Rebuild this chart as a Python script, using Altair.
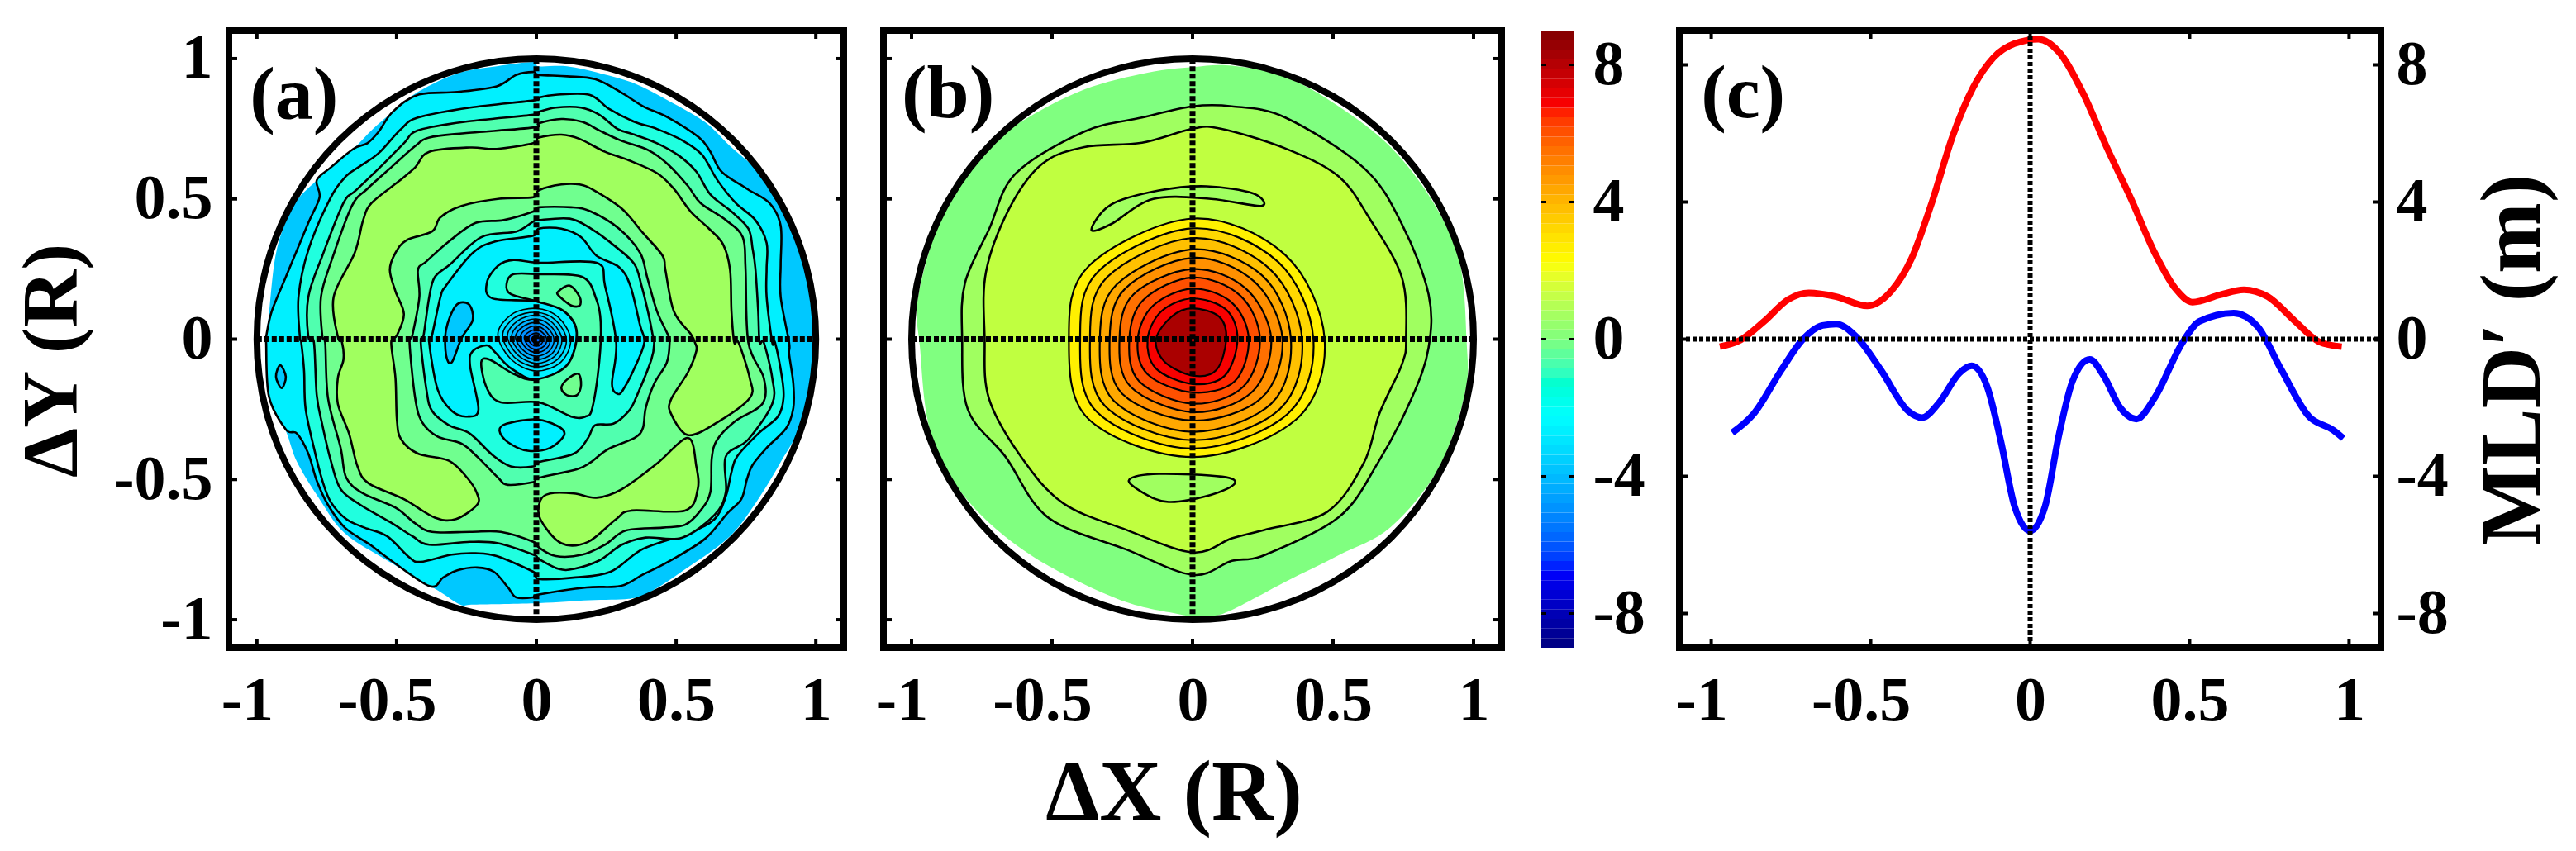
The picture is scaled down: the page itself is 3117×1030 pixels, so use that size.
import altair as alt
import pandas as pd

FONT = "Liberation Serif"
W_A, W_B, W_BAR, W_C, H = 744, 748, 40, 849, 747
GAP = 48

# unit circle drawn in panels (a) and (b)
CIRC_X = [1, .966, .866, .707, .5, .259, 0, -.259, -.5, -.707, -.866, -.966, -1, -.966, -.866, -.707, -.5, -.259, 0, .259, .5, .707, .866, .966]
CIRC_Y = [0, .259, .5, .707, .866, .966, 1, .966, .866, .707, .5, .259, 0, -.259, -.5, -.707, -.866, -.966, -1, -.966, -.866, -.707, -.5, -.259]

TICKS_R = [-1, -0.5, 0, 0.5, 1]
TICKS_M = [-8, -4, 0, 4, 8]

# ---------- panel (a) contours, R units ----------
A_L1 = [(0,.97),(.10,.97),(.22,.945),(.34,.91),(.46,.85),(.59,.775),(.68,.69),(.78,.60),(.85,.49),(.91,.365),(.95,.26),(.98,.11),(.98,0),
        (.98,-.06),(.94,-.27),(.86,-.42),(.78,-.55),(.68,-.68),(.53,-.79),(.39,-.88),(.32,-.90),(.18,-.905),(0,-.915),
        (-.23,-.92),(-.28,-.92),(-.36,-.87),(-.54,-.765),(-.69,-.67),(-.78,-.55),(-.86,-.42),(-.90,-.31),(-.96,-.19),(-.97,0),
        (-.96,.10),(-.94,.285),(-.91,.40),(-.86,.50),(-.79,.57),(-.74,.615),(-.66,.68),(-.59,.75),(-.52,.81),(-.43,.88),(-.29,.945),(-.15,.97),(-.02,.985)]
A_L2 = [(0,.94),(.10,.935),(.20,.925),(.29,.88),(.37,.83),(.46,.79),(.57,.72),(.61,.67),(.65,.60),(.74,.54),(.82,.49),(.86,.41),(.86,.275),(.86,.16),(.89,0),
        (.89,-.04),(.905,-.145),(.905,-.23),(.88,-.30),(.81,-.37),(.76,-.43),(.74,-.48),(.72,-.55),(.67,-.60),(.59,-.69),(.46,-.77),(.37,-.815),(.29,-.855),(.17,-.86),(0,-.885),
        (-.02,-.895),(-.08,-.895),(-.11,-.86),(-.16,-.805),(-.22,-.79),(-.29,-.80),(-.34,-.825),(-.39,-.855),(-.54,-.755),(-.60,-.71),(-.69,-.65),(-.75,-.57),(-.79,-.485),(-.82,-.39),(-.86,-.32),(-.90,-.305),(-.96,-.19),(-.97,0),
        (-.97,.02),(-.95,.11),(-.90,.23),(-.82,.42),(-.78,.51),(-.79,.57),(-.74,.615),(-.66,.68),(-.61,.70),(-.57,.74),(-.52,.81),(-.43,.87),(-.29,.88),(-.15,.90),(-.08,.94),(-.02,.95)]
A_EDGE_OVAL = [(-.92,-.08),(-.90,-.12),(-.915,-.16),(-.935,-.12)]
A_L3 = [(0,.86),(.06,.87),(.18,.87),(.25,.82),(.34,.775),(.42,.75),(.51,.71),(.58,.66),(.635,.57),(.70,.49),(.77,.43),(.81,.35),(.81,.26),(.81,.16),(.83,0),
        (.84,0),(.865,-.125),(.87,-.195),(.85,-.26),(.78,-.32),(.705,-.40),(.685,-.455),(.665,-.54),(.625,-.62),(.53,-.67),(.37,-.725),(.255,-.805),(.13,-.825),(0,-.83),
        (-.02,-.805),(-.15,-.75),(-.225,-.74),(-.31,-.745),(-.42,-.77),(-.46,-.755),(-.54,-.68),(-.62,-.65),(-.685,-.62),(-.74,-.56),(-.77,-.485),(-.80,-.37),(-.83,-.23),(-.835,-.10),(-.845,0),
        (-.85,.02),(-.855,.16),(-.82,.325),(-.74,.51),(-.685,.585),(-.635,.62),(-.57,.665),(-.49,.75),(-.43,.79),(-.245,.825),(-.02,.85)]
A_L4 = [(0,.81),(.06,.825),(.15,.825),(.215,.80),(.28,.75),(.34,.73),(.42,.70),(.50,.655),(.56,.60),(.61,.52),(.685,.46),(.745,.40),(.76,.33),(.77,.26),(.78,.11),(.785,0),
        (.80,0),(.83,-.125),(.83,-.215),(.745,-.34),(.665,-.40),(.665,-.525),(.625,-.605),(.51,-.685),(.38,-.685),(.295,-.71),(.215,-.765),(.125,-.795),(.07,-.795),(0,-.76),
        (-.02,-.745),(-.145,-.705),(-.245,-.70),(-.39,-.71),(-.45,-.68),(-.53,-.63),(-.635,-.57),(-.705,-.515),(-.74,-.415),(-.77,-.29),(-.79,-.185),(-.80,0),
        (-.82,.02),(-.82,.16),(-.77,.305),(-.695,.49),(-.65,.535),(-.555,.625),(-.48,.70),(-.43,.745),(-.265,.775),(-.02,.80)]
A_L5 = [(0,.77),(.08,.785),(.155,.775),(.215,.745),(.29,.71),(.39,.675),(.46,.625),(.53,.55),(.575,.49),(.665,.43),(.725,.37),(.735,.26),(.745,0),
        (.80,-.125),(.795,-.215),(.70,-.275),(.635,-.34),(.615,-.405),(.61,-.525),(.575,-.59),(.52,-.64),(.44,-.65),(.31,-.66),(.235,-.71),(.155,-.745),(.06,-.75),(0,-.72),
        (-.02,-.70),(-.135,-.665),(-.245,-.665),(-.38,-.665),(-.44,-.635),(-.51,-.58),(-.625,-.53),(-.685,-.475),(-.705,-.37),(-.75,-.195),(-.76,0),
        (-.77,.02),(-.775,.16),(-.735,.295),(-.665,.48),(-.61,.54),(-.52,.62),(-.44,.69),(-.39,.72),(-.265,.735),(-.02,.755)]
A_LIME = [(-.715,.02),(-.73,.16),(-.655,.315),(-.625,.43),(-.595,.49),(-.50,.565),(-.44,.615),(-.39,.67),(-.245,.685),(-.15,.68),(-.02,.70),
          (0,.72),(.08,.73),(.145,.715),(.235,.67),(.32,.64),(.42,.595),(.48,.54),(.54,.46),(.605,.40),(.655,.345),(.68,.255),(.685,.11),(.695,0),
          (.71,0),(.75,-.125),(.75,-.195),(.635,-.28),(.53,-.325),(.47,-.25),(.47,-.20),(.53,-.105),(.56,-.03),(.555,0),
          (.54,.03),(.48,.11),(.45,.255),(.44,.305),(.37,.385),(.295,.47),(.195,.535),(.145,.555),(.08,.555),(0,.535),
          (-.02,.51),(-.14,.505),(-.275,.48),(-.35,.44),(-.38,.39),(-.47,.36),(-.51,.315),(-.53,.255),(-.51,.18),(-.48,.10),(-.505,.025),
          (-.525,0),(-.51,-.125),(-.505,-.27),(-.49,-.34),(-.43,-.39),(-.32,-.415),(-.255,-.475),(-.22,-.53),(-.22,-.57),(-.295,-.62),(-.37,-.615),(-.48,-.55),(-.605,-.495),(-.645,-.435),(-.675,-.32),(-.715,-.215),(-.715,-.125),(-.695,-.06),(-.70,0)]
A_LOBE = [(.53,-.335),(.56,-.435),(.565,-.515),(.52,-.59),(.33,-.59),(.275,-.62),(.175,-.70),(.08,-.705),(.005,-.62),(.005,-.555),(.04,-.53),(.125,-.53),(.205,-.545),(.295,-.515),(.42,-.425)]
A_IN5 = [(0,.475),(.115,.475),(.185,.46),(.285,.40),(.36,.315),(.385,.23),(.42,.11),(.46,.025),(.465,0),(.455,-.07),(.41,-.145),(.38,-.23),(.37,-.30),(.34,-.335),(.245,-.375),(.185,-.42),(.135,-.445),(0,-.475),
         (-.02,-.49),(-.11,-.50),(-.145,-.475),(-.215,-.405),(-.275,-.355),(-.36,-.33),(-.415,-.28),(-.44,-.195),(-.46,0),(-.45,.025),(-.425,.16),(-.43,.255),(-.40,.285),(-.32,.355),(-.225,.42),(-.125,.43),(-.02,.46)]
A_IN4 = [(0,.43),(.11,.435),(.185,.40),(.275,.335),(.34,.275),(.365,.20),(.39,.10),(.405,.025),(.41,0),(.40,-.06),(.345,-.195),(.32,-.24),(.265,-.285),(.20,-.29),(.175,-.335),(.125,-.39),(0,-.42),
         (-.02,-.435),(-.10,-.435),(-.165,-.395),(-.245,-.32),(-.32,-.29),(-.38,-.24),(-.40,-.165),(-.42,0),(-.41,.025),(-.39,.16),(-.37,.23),(-.315,.275),(-.205,.37),(-.08,.39),(-.02,.425)]
A_CYAN = [(0,.40),(.08,.40),(.15,.37),(.205,.305),(.285,.265),(.325,.20),(.36,.06),(.375,0),(.34,-.09),(.30,-.165),(.28,-.18),(.26,-.145),(.275,0),(.235,.20),(.205,.28),(0,.28),(-.09,.29),(-.145,.27),(-.185,.21),(-.165,.155),(-.01,.145),(.09,.11),(.135,.035),(.10,-.08),(-.01,-.13),(-.10,-.09),(-.155,-.035),(-.185,-.01),(-.235,-.03),(-.245,-.08),(-.215,-.235),(-.255,-.26),(-.31,-.24),(-.36,-.165),(-.39,0),(-.38,.025),(-.35,.16),(-.33,.20),(-.235,.315),(-.155,.355),(-.02,.375)]
A_DEEP_OVAL = [(-.33,.045),(-.295,.13),(-.25,.135),(-.235,.08),(-.275,.015),(-.31,-.07),(-.33,-.045)]
A_LOW_OVAL = [(-.14,-.31),(-.115,-.285),(-.01,-.27),(.07,-.295),(.09,-.325),(.04,-.37),(-.04,-.38),(-.11,-.35)]
A_AROUND = [(-.09,.24),(0,.24),(.155,.23),(.205,.15),(.22,.07),(.215,-.065),(.19,-.23),(.165,-.26),(.115,-.26),(0,-.21),(-.135,-.21),(-.185,-.16),(-.205,-.07),(-.175,-.06),(-.09,-.11),(-.01,-.13),(.10,-.08),(.135,.035),(.09,.11),(-.01,.145),(-.10,.17),(-.115,.205)]
A_OVAL_F = [(.07,.18),(.11,.20),(.145,.16),(.145,.13),(.115,.13),(.07,.165)]
A_OVAL_G = [(.08,-.16),(.10,-.13),(.14,-.11),(.15,-.15),(.135,-.185),(.10,-.185)]

# central low of (a): rings, outermost first, read along eight directions
BA_EX = [.113,.098,.082,.068,.054,.040,.028,.015,.004]
BA_EY = [.01,.01,.01,.01,.01,.01,.01,.01,.01]
BA_SEX = [.078,.067,.056,.046,.036,.026,.017,.008,0]
BA_SEY = [-.069,-.059,-.049,-.040,-.031,-.022,-.014,-.006,.001]
BA_SX = [-.01,-.01,-.01,-.01,-.01,-.01,-.01,-.01,-.01]
BA_SY = [-.10,-.086,-.073,-.06,-.048,-.035,-.024,-.013,-.003]
BA_SWX = [-.098,-.087,-.076,-.066,-.056,-.046,-.037,-.028,-.02]
BA_SWY = [-.06,-.052,-.043,-.035,-.027,-.019,-.012,-.004,.002]
BA_WX = [-.146,-.129,-.112,-.097,-.083,-.066,-.052,-.038,-.026]
BA_WY = [.028,.025,.023,.021,.019,.019,.017,.015,.012]
BA_NWX = [-.098,-.087,-.076,-.066,-.056,-.046,-.037,-.028,-.02]
BA_NWY = [.098,.087,.076,.066,.056,.046,.036,.027,.02]
BA_NX = [-.01,-.01,-.01,-.01,-.01,-.01,-.01,-.01,-.01]
BA_NY = [.12,.106,.096,.083,.07,.058,.045,.034,.0225]
BA_NEX = [.069,.059,.049,.040,.031,.022,.014,.006,-.001]
BA_NEY = [.089,.079,.069,.06,.051,.042,.034,.026,.019]
BA_FILL = ["#00E4FF","#00D4FF","#00C4FF","#00B0FF","#00A0FF","#0090FF","#0080FF","#0070FF","#0060FF"]

# ---------- panel (b) contours ----------
B_P1 = [(0,.97),(.14,.975),(.33,.935),(.52,.83),(.705,.685),(.855,.49),(.95,.275),(.975,0),(.97,-.19),(.875,-.46),(.705,-.67),(.52,-.77),(.33,-.865),(.14,-.965),(.05,-.99),(-.05,-.98),(-.27,-.925),(-.575,-.77),(-.80,-.575),(-.93,-.34),(-.97,-.03),(-.975,.16),(-.875,.49),(-.745,.665),(-.61,.775),(-.385,.89),(-.16,.95)]
B_P2 = [(0,.83),(.14,.83),(.33,.79),(.61,.61),(.745,.41),(.84,.16),(.84,-.03),(.78,-.21),(.66,-.44),(.52,-.635),(.255,-.77),(.14,-.79),(0,-.84),(-.235,-.75),(-.515,-.635),(-.665,-.42),(-.80,-.25),(-.82,.005),(-.81,.20),(-.725,.39),(-.63,.59),(-.385,.74),(-.18,.79)]
B_P3 = [(0,.75),(.10,.75),(.33,.68),(.52,.58),(.63,.43),(.745,.22),(.76,.005),(.745,-.09),(.665,-.265),(.61,-.44),(.48,-.615),(.255,-.68),(.14,-.71),(0,-.76),(-.235,-.68),(-.46,-.585),(-.61,-.42),(-.725,-.21),(-.74,.005),(-.735,.24),(-.65,.47),(-.535,.625),(-.385,.685),(-.18,.70)]
B_TOP_OVAL = [(-.36,.39),(-.29,.48),(-.12,.53),(.05,.545),(.215,.52),(.245,.475),(.065,.50),(-.14,.50),(-.29,.41)]
B_LOW_OVAL = [(-.225,-.50),(-.12,-.48),(.105,-.49),(.15,-.515),(.065,-.555),(-.085,-.58),(-.18,-.545)]

BB_EX = [.47,.43,.39,.35,.32,.28,.24,.20,.16,.12]
BB_SEX = [.37,.34,.31,.28,.245,.21,.18,.15,.115,.085]
BB_SEY = [-.285,-.265,-.25,-.23,-.21,-.19,-.17,-.15,-.13,-.11]
BB_SY = [-.42,-.39,-.36,-.33,-.29,-.26,-.23,-.19,-.16,-.13]
BB_SWX = [-.37,-.34,-.31,-.28,-.25,-.22,-.19,-.16,-.13,-.10]
BB_SWY = [-.285,-.26,-.24,-.22,-.195,-.17,-.15,-.125,-.105,-.08]
BB_WX = [-.44,-.40,-.365,-.33,-.295,-.26,-.225,-.195,-.16,-.13]
BB_NWX = [-.37,-.337,-.305,-.27,-.24,-.21,-.175,-.14,-.11,-.075]
BB_NWY = [.26,.24,.22,.195,.18,.16,.14,.12,.10,.08]
BB_NY = [.43,.395,.36,.32,.29,.25,.22,.18,.145,.11]
BB_NEX = [.33,.305,.275,.25,.22,.19,.17,.14,.12,.095]
BB_NEY = [.30,.275,.25,.225,.205,.18,.155,.13,.105,.08]
BB_FILL = ["#FFF000","#FFD800","#FFC000","#FFA800","#FF9000","#FF7000","#FF5000","#FF2800","#F80000","#AA0000"]

# ---------- panel (c) profiles ----------
RED_X = [-.973,-.909,-.834,-.758,-.694,-.608,-.511,-.436,-.372,-.307,-.243,-.178,-.114,-.049,.026,.09,.165,.24,.316,.391,.455,.509,.595,.67,.745,.831,.907,.977]
RED_Y = [-.22,-.03,.52,1.16,1.35,1.24,.97,1.40,2.35,4.02,5.92,7.35,8.22,8.62,8.75,8.38,7.19,5.6,4.1,2.51,1.48,1.08,1.29,1.44,1.24,.52,-.08,-.22]
BLUE_X = [-.934,-.866,-.78,-.715,-.651,-.608,-.543,-.468,-.382,-.339,-.286,-.221,-.183,-.135,-.092,-.049,0,.047,.09,.133,.187,.23,.284,.333,.391,.477,.531,.638,.713,.788,.874,.95,.982]
BLUE_Y = [-2.73,-2.17,-.90,-.03,.40,.44,.05,-.90,-2.10,-2.29,-1.86,-.98,-.78,-1.38,-2.97,-4.87,-5.59,-4.87,-2.81,-1.22,-.59,-1.06,-2.02,-2.33,-1.70,-.11,.52,.76,.37,-.90,-2.25,-2.65,-2.89]

# ---------- colour bar ----------
JET_STOPS = [-9, -6.75, -2.25, 0, 2.25, 6.75, 9]
JET_COLORS = ["#00007F", "#0000FF", "#00FFFF", "#7FFF7F", "#FFFF00", "#FF0000", "#7F0000"]
BAR_EDGES = [round(-9 + i * 18 / 64, 5) for i in range(65)]


def a_fix(pts):
    return [(p[0] * 1.006 + .009, p[1] * 1.015 - .012) for p in pts]


A_POLYS = [("#00F0FF", a_fix(A_L2)), ("#00C8FF", a_fix(A_EDGE_OVAL)), ("#20FFDF", a_fix(A_L3)),
           ("#50FFAF", a_fix(A_L4)), ("#70FF8F", a_fix(A_L5)), ("#A0FF5F", a_fix(A_LIME)),
           ("#A0FF5F", a_fix(A_LOBE)), ("#50FFAF", a_fix(A_IN5)), ("#20FFDF", a_fix(A_IN4)),
           ("#00F0FF", a_fix(A_CYAN)), ("#00C8FF", a_fix(A_DEEP_OVAL)), ("#00F0FF", a_fix(A_LOW_OVAL)),
           ("#50FFAF", a_fix(A_AROUND)), ("#70FF8F", a_fix(A_OVAL_F)), ("#70FF8F", a_fix(A_OVAL_G))]
A_RINGS = []
for k, col in enumerate(BA_FILL):
    A_RINGS.append((col, a_fix([(BA_EX[k], BA_EY[k]), (BA_SEX[k], BA_SEY[k]), (BA_SX[k], BA_SY[k]), (BA_SWX[k], BA_SWY[k]),
                                (BA_WX[k], BA_WY[k]), (BA_NWX[k], BA_NWY[k]), (BA_NX[k], BA_NY[k]), (BA_NEX[k], BA_NEY[k])])))

B_POLYS = [("#A0FF60", B_P2), ("#C0FF40", B_P3), ("#A0FF60", B_TOP_OVAL), ("#A0FF60", B_LOW_OVAL)]
B_RINGS = []
for k, col in enumerate(BB_FILL):
    B_RINGS.append((col, [(BB_EX[k], 0), (BB_SEX[k], BB_SEY[k]), (0, BB_SY[k]), (BB_SWX[k], BB_SWY[k]),
                          (BB_WX[k], 0), (BB_NWX[k], BB_NWY[k]), (0, BB_NY[k]), (BB_NEX[k], BB_NEY[k])]))


def frame(polys):
    rows = []
    for pid, (col, pts) in enumerate(polys):
        for i, (x, y) in enumerate(pts):
            rows.append({"x": x, "y": y, "poly": pid, "i": i, "fill": col})
    return pd.DataFrame(rows)


RANGE = [-1.1, 1.1]
xs = alt.Scale(domain=RANGE, nice=False, zero=False)
ys = alt.Scale(domain=RANGE, nice=False, zero=False)
ym = alt.Scale(domain=[-9, 9], nice=False, zero=False)

NEG_SHIFT = alt.expr("datum.value<0?-12:0")
AX_A = alt.Axis(values=TICKS_R, labelExpr="datum.value", title=None, labelPadding=27, labelOffset=NEG_SHIFT)
AY_A = alt.Axis(values=TICKS_R, labelExpr="datum.value", labelPadding=20, title="ΔY (R)",
                titleX=-165, titleY=399, titleFontSize=96)
AX_B = alt.Axis(values=TICKS_R, labelExpr="datum.value", labelPadding=27, labelOffset=NEG_SHIFT,
                title="ΔX (R)", titleFontSize=104, titleX=351, titleY=125)
AX_C = AX_A
AY_C = alt.Axis(orient="right", values=TICKS_M, labelExpr="datum.value", labelPadding=18, labelAlign="left",
                title="MLD′ (m)", titleAngle=270, titleFontSize=103, titleX=213, titleY=398)
AY_BAR = alt.Axis(orient="right", values=TICKS_M, labelExpr="datum.value", labelPadding=22, labelAlign="left", title=None)


def X(field, ax):
    return alt.X(field, scale=xs, axis=ax)


def Y(field, sc, ax):
    return alt.Y(field, scale=sc, axis=ax)


def contour_layer(polys, sc, ax, ay, sw=2.6, stroke="black", tension=.0):
    return alt.Chart(frame(polys)).mark_line(interpolate="cardinal-closed", tension=tension, stroke=stroke, strokeWidth=sw).encode(
        x=X("x:Q", ax),
        y=Y("y:Q", sc, ay),
        fill=alt.Fill("fill:N", scale=None),
        detail="poly:N",
        order="i:Q",
    )


def ticks_x(ax, ay, sc, h=H, length=10):
    base = alt.Chart(pd.DataFrame({"x": TICKS_R})).mark_rule(color="black", strokeWidth=4)
    return base.encode(x=X("x:Q", ax), y=alt.value(0), y2=alt.value(length)) + \
        base.encode(x=X("x:Q", ax), y=alt.value(h - length), y2=alt.value(h))


def ticks_y(vals, sc, ay, W, length=10, width=4):
    base = alt.Chart(pd.DataFrame({"y": vals})).mark_rule(color="black", strokeWidth=width)
    return base.encode(y=Y("y:Q", sc, ay), x=alt.value(0), x2=alt.value(length)) + \
        base.encode(y=Y("y:Q", sc, ay), x=alt.value(W - length), x2=alt.value(W))


def cross(ex, ey, sc, dash, width, ax, ay):
    h = pd.DataFrame({"x": [ex[0]], "x2": [ex[1]], "y": [0]})
    v = pd.DataFrame({"x": [0], "y": [ey[0]], "y2": [ey[1]]})
    hr = alt.Chart(h).mark_rule(color="black", strokeWidth=width, strokeDash=dash).encode(
        x=X("x:Q", ax), x2="x2:Q", y=Y("y:Q", sc, ay))
    vr = alt.Chart(v).mark_rule(color="black", strokeWidth=width, strokeDash=dash).encode(
        x=X("x:Q", ax), y=Y("y:Q", sc, ay), y2="y2:Q")
    return hr + vr


def panel_label(text, x, y, sc, ax, ay):
    return alt.Chart(pd.DataFrame({"x": [x], "y": [y], "t": [text]})).mark_text(
        font=FONT, fontWeight="bold", fontSize=92, color="black", align="center", baseline="middle").encode(
        x=X("x:Q", ax), y=Y("y:Q", sc, ay), text="t:N")


def circle(ax, ay):
    d = pd.DataFrame({"x": CIRC_X, "y": CIRC_Y, "i": range(len(CIRC_X))})
    return alt.Chart(d).mark_line(interpolate="cardinal-closed", tension=0, stroke="black", strokeWidth=8).encode(
        x=X("x:Q", ax), y=Y("y:Q", ys, ay), order="i:Q")


# panel (a)
panel_a = alt.layer(
    contour_layer([("#00C8FF", a_fix(A_L1))], ys, AX_A, AY_A, sw=0, stroke="#00C8FF"),
    contour_layer(A_POLYS, ys, AX_A, AY_A),
    contour_layer(A_RINGS, ys, AX_A, AY_A, sw=1.6),
    circle(AX_A, AY_A),
    cross((-1, 1), (-.98, 1), ys, [6, 3], 7, AX_A, AY_A),
    ticks_x(AX_A, AY_A, ys),
    ticks_y(TICKS_R, ys, AY_A, W_A),
    panel_label("(a)", -.867, .867, ys, AX_A, AY_A),
).properties(width=W_A, height=H)

# panel (b)
AY_NONE = alt.Axis(values=TICKS_R, labels=False, title=None)
panel_b = alt.layer(
    contour_layer([("#80FF80", B_P1)], ys, AX_B, AY_NONE, sw=0, stroke="#80FF80"),
    contour_layer(B_POLYS, ys, AX_B, AY_NONE),
    contour_layer(B_RINGS, ys, AX_B, AY_NONE, sw=2.2),
    circle(AX_B, AY_NONE),
    cross((-1, 1), (-.98, 1), ys, [6, 3], 7, AX_B, AY_NONE),
    ticks_x(AX_B, AY_NONE, ys),
    ticks_y(TICKS_R, ys, AY_NONE, W_B),
    panel_label("(b)", -.87, .873, ys, AX_B, AY_NONE),
).properties(width=W_B, height=H)

# colour bar
bar_df = pd.DataFrame({"lo": BAR_EDGES[:-1], "hi": BAR_EDGES[1:]})
bar_df["mid"] = (bar_df.lo + bar_df.hi) / 2
bar = alt.Chart(bar_df).mark_rect().encode(
    y=alt.Y("lo:Q", scale=ym, axis=AY_BAR),
    y2="hi:Q",
    color=alt.Color("mid:Q", scale=alt.Scale(domain=JET_STOPS, range=JET_COLORS), legend=None),
)
panel_bar = alt.layer(bar, ticks_y(TICKS_M, ym, AY_BAR, W_BAR, length=6, width=3)).properties(
    width=W_BAR, height=H, view=alt.ViewBackground(stroke="transparent"))

spacer = alt.Chart(pd.DataFrame({"v": [0]})).mark_point(opacity=0).encode(x=alt.value(0), y=alt.value(0)).properties(
    width=31, height=H, view=alt.ViewBackground(stroke="transparent"))

# panel (c)
line_df = pd.concat([
    pd.DataFrame({"x": RED_X, "y": RED_Y, "s": "red"}),
    pd.DataFrame({"x": BLUE_X, "y": BLUE_Y, "s": "blue"}),
])
lines = alt.Chart(line_df).mark_line(interpolate="monotone", strokeWidth=8).encode(
    x=X("x:Q", AX_C),
    y=Y("y:Q", ym, AY_C),
    color=alt.Color("s:N", scale=alt.Scale(domain=["red", "blue"], range=["#FF0000", "#0000FF"]), legend=None),
)
panel_c = alt.layer(
    lines,
    cross((-1.1, 1.1), (-9, 9), ym, [5, 3], 6, AX_C, AY_C),
    ticks_x(AX_C, AY_C, ym),
    ticks_y(TICKS_M, ym, AY_C, W_C),
    panel_label("(c)", -.90, 7.15, ym, AX_C, AY_C),
).properties(width=W_C, height=H)

chart = alt.hconcat(panel_a, panel_b, panel_bar, spacer, panel_c, spacing=GAP, bounds="flush").properties(
    padding={"left": 3, "top": 19, "right": 0, "bottom": 0}, background="white"
).configure_view(stroke="black", strokeWidth=8, fill=None).configure_axis(
    domain=False, grid=False, ticks=False, labelFont=FONT, labelFontWeight="bold", labelFontSize=76, labelColor="black",
    labelFlush=False, labelOverlap=False, labelBound=False, titleFont=FONT, titleFontWeight="bold", titleColor="black",
).resolve_scale(x="independent", y="independent")

chart.save("out.html", embed_options={"renderer": "svg", "actions": False})
